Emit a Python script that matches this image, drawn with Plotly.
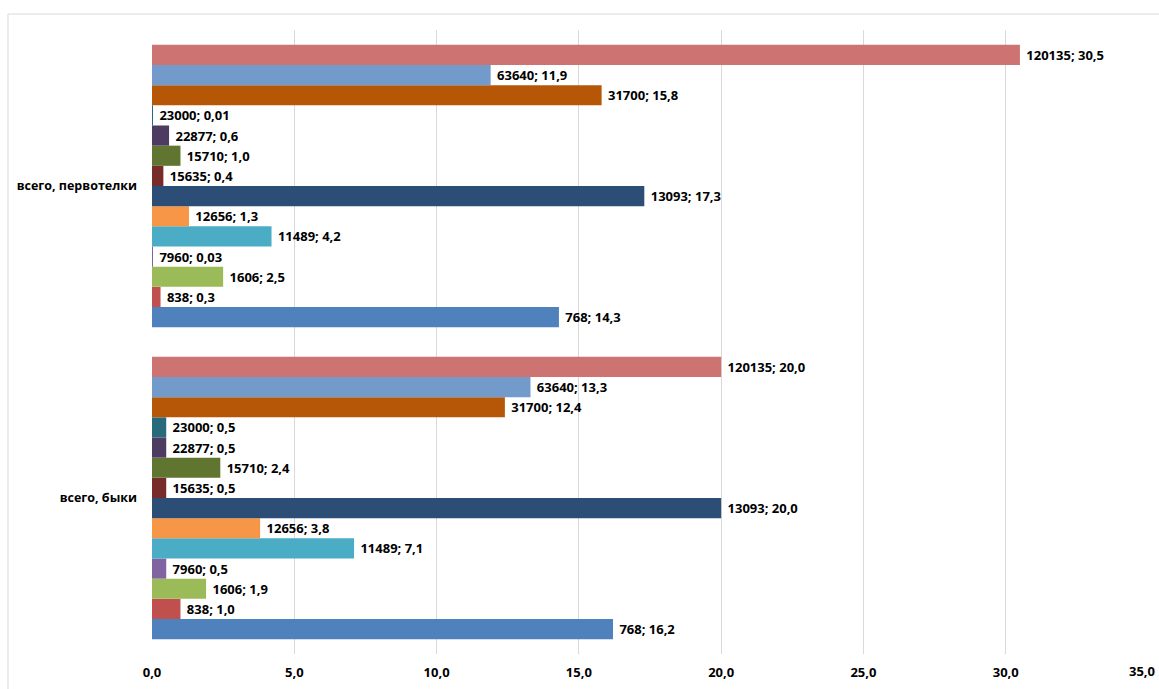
import plotly.graph_objects as go

# Categories (bottom to top on the category axis)
categories = ["всего, быки", "всего, первотелки"]

# Series codes, drawn from the bottom of each group upward
codes = ["768", "838", "1606", "7960", "11489", "12656", "13093",
         "15635", "15710", "22877", "23000", "31700", "63640", "120135"]

# Values per series: [быки, первотелки]
values_byki = [16.2, 1.0, 1.9, 0.5, 7.1, 3.8, 20.0,
               0.5, 2.4, 0.5, 0.5, 12.4, 13.3, 20.0]
values_pervotelki = [14.3, 0.3, 2.5, 0.03, 4.2, 1.3, 17.3,
                     0.4, 1.0, 0.6, 0.01, 15.8, 11.9, 30.5]

colors = ["#4F81BD", "#C0504D", "#9BBB59", "#8064A2", "#4BACC6", "#F79646",
          "#2C4D75", "#772C2A", "#5F7530", "#4D3B62", "#276A7C", "#B65708",
          "#729ACA", "#CD7371"]

tick_vals = [0, 5, 10, 15, 20, 25, 30, 35]
tick_text = ["0,0", "5,0", "10,0", "15,0", "20,0", "25,0", "30,0", "35,0"]

FONT = "Open Sans"
TICKFONT = dict(family=FONT, size=13, color="#000000", weight="bold")


def fmt(v):
    s = f"{v:.2f}" if v < 0.1 else f"{v:.1f}"
    return s.replace(".", ",")


fig = go.Figure()
for i, code in enumerate(codes):
    vals = [values_byki[i], values_pervotelki[i]]
    fig.add_trace(go.Bar(
        y=categories,
        x=vals,
        orientation="h",
        name=code,
        marker=dict(color=colors[i], line=dict(width=0)),
        text=[f" {code}; {fmt(v)}" for v in vals],
        textposition="outside",
        constraintext="none",
        cliponaxis=False,
        textfont=dict(family=FONT, size=13, color="#000000", weight="bold"),
    ))

# The last tick label sits at the right edge of the page; it is drawn as an
# annotation right-aligned to the page edge so that it stays fully visible.
axis_ticktext = tick_text[:-1] + [""]

fig.update_layout(
    barmode="group",
    bargap=0.095,
    bargroupgap=0,
    width=1159,
    height=689,
    margin=dict(l=152, r=11, t=30, b=35),
    paper_bgcolor="white",
    plot_bgcolor="white",
    showlegend=False,
    font=dict(family=FONT, size=13, color="#000000"),
    xaxis=dict(
        range=[0, 35],
        tickvals=tick_vals,
        ticktext=axis_ticktext,
        showgrid=True,
        gridcolor="#D9D9D9",
        gridwidth=1,
        zeroline=False,
        showline=False,
        ticks="",
        ticklabelstandoff=9,
        ticklabeloverflow="allow",
        automargin=False,
        tickfont=TICKFONT,
        fixedrange=True,
    ),
    yaxis=dict(
        showgrid=False,
        zeroline=False,
        showline=False,
        ticks="",
        ticklabelstandoff=14,
        automargin=False,
        tickfont=dict(family=FONT, size=12.5, color="#000000", weight="bold"),
        fixedrange=True,
    ),
    annotations=[
        dict(text=tick_text[-1], xref="paper", yref="paper",
             x=1.0095, y=0, xanchor="right", yanchor="top",
             yshift=-6, showarrow=False, font=TICKFONT),
    ],
    shapes=[
        dict(type="rect", xref="paper", yref="paper",
             x0=-0.1446, x1=1.05, y0=-0.2, y1=1.0256,
             line=dict(color="#D9D9D9", width=1), fillcolor="rgba(0,0,0,0)",
             layer="below"),
    ],
)

fig.write_html("out.html")
